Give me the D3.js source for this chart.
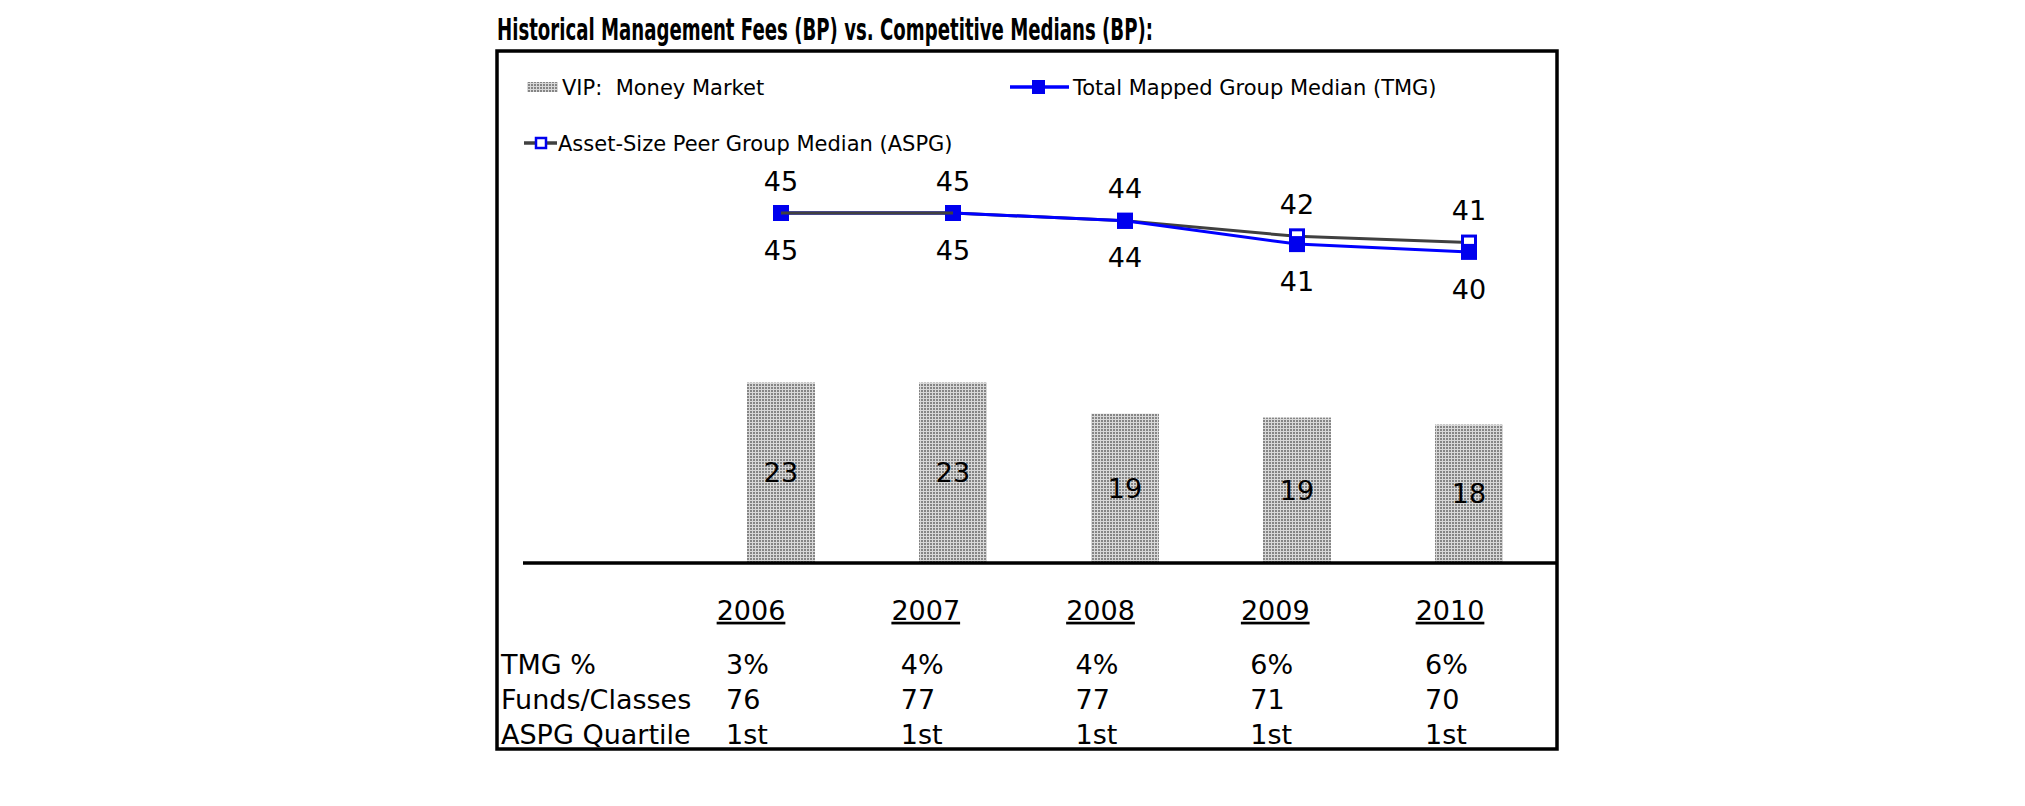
<!DOCTYPE html>
<html>
<head>
<meta charset="utf-8">
<script src="https://cdn.jsdelivr.net/npm/d3@7"></script>
<style>
  html, body { margin: 0; padding: 0; background: #fff; }
  svg { display: block; }
  text { font-family: "DejaVu Sans", Verdana, sans-serif; fill: #000; }
</style>
</head>
<body>
<script>
// ---- data ----
const years = ["2006", "2007", "2008", "2009", "2010"];
const vipFees = [23.2, 23.2, 19.2, 18.7, 17.8];           // VIP: Money Market (bars)
const tmgMedian = [45, 45, 44, 41, 40];                    // Total Mapped Group Median
const aspgMedian = [45, 45, 44, 42, 41.2];                 // Asset-Size Peer Group Median
const tableRowLabels = ["TMG %", "Funds/Classes", "ASPG Quartile"];
const tmgPct = ["3%", "4%", "4%", "6%", "6%"];
const fundsClasses = ["76", "77", "77", "71", "70"];
const aspgQuartile = ["1st", "1st", "1st", "1st", "1st"];
const titleText = "Historical Management Fees (BP) vs. Competitive Medians (BP):";
const legendLabels = ["VIP:\u00a0\u00a0Money Market", "Total Mapped Group Median (TMG)", "Asset-Size Peer Group Median (ASPG)"];

// ---- layout ----
const W = 2025, H = 806;
const svg = d3.select("body").append("svg").attr("width", W).attr("height", H);

const defs = svg.append("defs");
const pat = defs.append("pattern").attr("id", "dots").attr("patternUnits", "userSpaceOnUse")
  .attr("width", 3).attr("height", 3);
pat.append("rect").attr("width", 3).attr("height", 3).attr("fill", "#d8d8d8");
pat.append("rect").attr("width", 2).attr("height", 2).attr("fill", "#858585");

// title
svg.append("text").attr("x", 497).attr("y", 40)
  .attr("font-size", 30).attr("font-weight", "bold")
  .attr("textLength", 656).attr("lengthAdjust", "spacingAndGlyphs")
  .text(titleText);

// frame
svg.append("rect").attr("x", 497).attr("y", 51).attr("width", 1060).attr("height", 698)
  .attr("fill", "none").attr("stroke", "#000").attr("stroke-width", 3.5);

// scales (single value axis shared by bars and lines)
const x = d3.scalePoint().domain(years).range([781, 1469]);
const y = d3.scaleLinear().domain([0, 45]).range([563, 213]);
const barW = 68;

// bars
const bars = svg.append("g");
bars.selectAll("rect").data(vipFees).join("rect")
  .attr("x", (d, i) => x(years[i]) - barW / 2)
  .attr("y", d => y(d))
  .attr("width", barW)
  .attr("height", d => y(0) - y(d))
  .attr("fill", "url(#dots)");
bars.selectAll("text").data(vipFees).join("text")
  .attr("x", (d, i) => x(years[i]))
  .attr("y", d => (y(d) + y(0)) / 2)
  .attr("dy", "0.36em").attr("text-anchor", "middle")
  .attr("font-size", 27)
  .text(d => d3.format(".0f")(d));

// baseline
svg.append("line").attr("x1", 523).attr("x2", 1556).attr("y1", y(0)).attr("y2", y(0))
  .attr("stroke", "#000").attr("stroke-width", 3.5);

// lines
const lineGen = arr => d3.line().x((d, i) => x(years[i])).y(d => y(d))(arr);
const mk = 16;

svg.append("path").attr("d", lineGen(aspgMedian)).attr("fill", "none")
  .attr("stroke", "#404040").attr("stroke-width", 3);
svg.append("g").selectAll("rect").data(aspgMedian).join("rect")
  .attr("x", (d, i) => x(years[i]) - mk / 2 + 1.5).attr("y", d => y(d) - mk / 2 + 1.5)
  .attr("width", mk - 3).attr("height", mk - 3)
  .attr("fill", "#fff").attr("stroke", "#0000ee").attr("stroke-width", 3);

svg.append("path").attr("d", lineGen(tmgMedian)).attr("fill", "none")
  .attr("stroke", "#0000ff").attr("stroke-width", 3);
svg.append("g").selectAll("rect").data(tmgMedian).join("rect")
  .attr("x", (d, i) => x(years[i]) - mk / 2).attr("y", d => y(d) - mk / 2)
  .attr("width", mk).attr("height", mk).attr("fill", "#0000ee");
// ASPG line drawn again over the coincident markers
svg.append("path").attr("d", lineGen(aspgMedian.slice(0, 2))).attr("fill", "none")
  .attr("stroke", "#404040").attr("stroke-width", 3);

// data labels
svg.append("g").selectAll("text").data(aspgMedian).join("text")
  .attr("x", (d, i) => x(years[i])).attr("y", d => y(d) - 32)
  .attr("dy", "0.36em").attr("text-anchor", "middle").attr("font-size", 27)
  .text(d => d3.format(".0f")(d));
svg.append("g").selectAll("text").data(tmgMedian).join("text")
  .attr("x", (d, i) => x(years[i])).attr("y", d => y(d) + 37)
  .attr("dy", "0.36em").attr("text-anchor", "middle").attr("font-size", 27)
  .text(d => d3.format(".0f")(d));

// legend
const lg = svg.append("g");
lg.append("rect").attr("x", 527).attr("y", 82).attr("width", 31).attr("height", 10).attr("fill", "url(#dots)");
lg.append("text").attr("x", 562).attr("y", 87).attr("dy", "0.36em").attr("font-size", 21).text(legendLabels[0]);

lg.append("line").attr("x1", 1010).attr("x2", 1069).attr("y1", 87).attr("y2", 87)
  .attr("stroke", "#0000ff").attr("stroke-width", 3.5);
lg.append("rect").attr("x", 1032).attr("y", 80).attr("width", 13).attr("height", 14).attr("fill", "#0000ee");
lg.append("text").attr("x", 1073).attr("y", 87).attr("dy", "0.36em").attr("font-size", 21).text(legendLabels[1]);

lg.append("line").attr("x1", 524).attr("x2", 557).attr("y1", 143).attr("y2", 143)
  .attr("stroke", "#404040").attr("stroke-width", 3.5);
lg.append("rect").attr("x", 536).attr("y", 138).attr("width", 10).attr("height", 10)
  .attr("fill", "#fff").attr("stroke", "#0000ee").attr("stroke-width", 2.5);
lg.append("text").attr("x", 558).attr("y", 143).attr("dy", "0.36em").attr("font-size", 21).text(legendLabels[2]);

// table
const xt = d3.scalePoint().domain(years).range([751, 1450]);
const tbl = svg.append("g");
tbl.selectAll("text.yr").data(years).join("text").attr("class", "yr")
  .attr("x", d => xt(d)).attr("y", 610).attr("dy", "0.36em")
  .attr("text-anchor", "middle").attr("font-size", 27)
  .attr("text-decoration", "underline").text(d => d);

const rows = [tmgPct, fundsClasses, aspgQuartile];
const rowY = [664, 699, 734];
rows.forEach((r, ri) => {
  tbl.append("text").attr("x", 501).attr("y", rowY[ri]).attr("dy", "0.36em")
    .attr("font-size", 27).text(tableRowLabels[ri]);
  tbl.append("g").selectAll("text").data(r).join("text")
    .attr("x", (d, i) => xt(years[i]) - 25).attr("y", rowY[ri]).attr("dy", "0.36em")
    .attr("font-size", 27).text(d => d);
});
</script>
</body>
</html>
